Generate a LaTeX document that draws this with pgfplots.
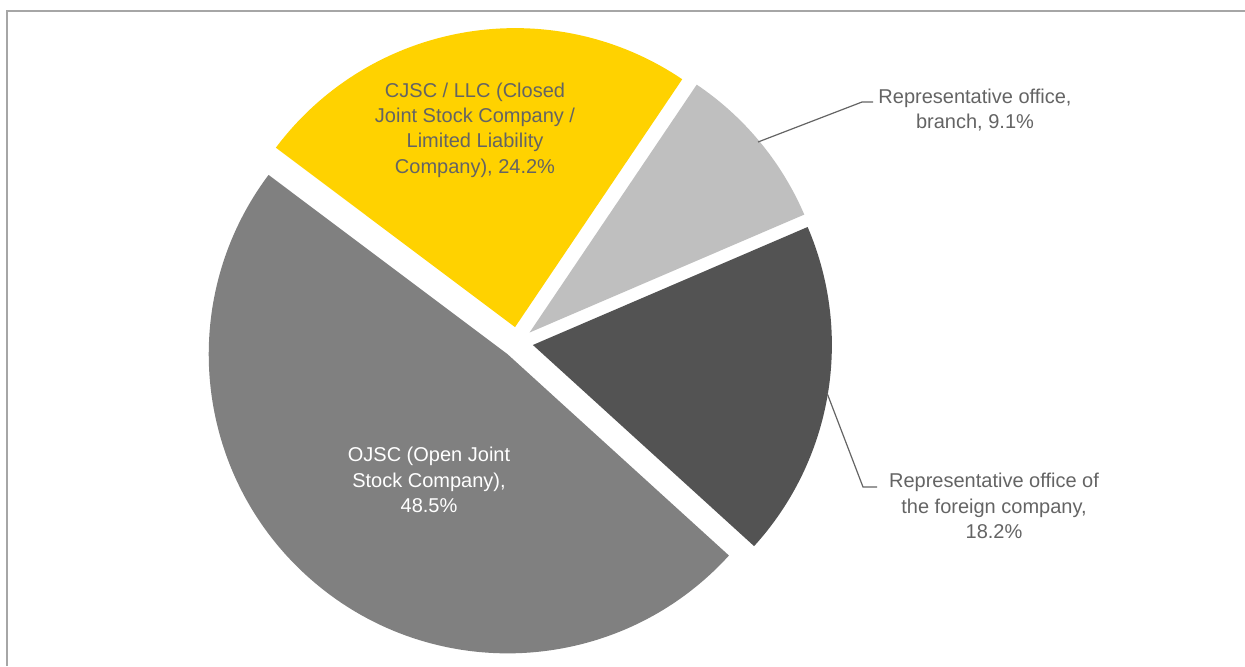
\documentclass[border=0pt]{standalone}
\usepackage{pgfplots}
\pgfplotsset{compat=1.18}
\usepackage{fontspec}
\setmainfont{Liberation Sans}
\definecolor{eyyellow}{HTML}{FFD200}
\definecolor{lgray}{HTML}{BFBFBF}
\definecolor{dgray}{HTML}{535353}
\definecolor{mgray}{HTML}{808080}
\definecolor{txt}{HTML}{646464}
\definecolor{frame}{HTML}{A6A6A6}
\begin{document}
\begin{tikzpicture}
% shares (percent), clockwise from the first slice
\def\pA{9.1}  % Representative office, branch
\def\pB{18.2} % Representative office of the foreign company
\def\pC{48.5} % OJSC
\def\pD{24.2} % CJSC / LLC
\pgfmathsetmacro\aA{56}
\pgfmathsetmacro\aB{\aA-3.6*\pA}
\pgfmathsetmacro\aC{\aB-3.6*\pB}
\pgfmathsetmacro\aD{\aC-3.6*\pC}
\pgfmathsetmacro\aE{\aD-3.6*\pD}
\pgfmathsetmacro\mA{(\aA+\aB)/2}
\pgfmathsetmacro\mB{(\aB+\aC)/2}
\pgfmathsetmacro\mC{(\aC+\aD)/2}
\pgfmathsetmacro\mD{(\aD+\aE)/2}
\def\R{149.5pt}
\def\D{7.75pt}
\begin{axis}[
  scale only axis, width=622.5pt, height=333pt,
  xmin=0, xmax=1245, ymin=0, ymax=666, y dir=reverse,
  hide axis, clip=false,
]
\fill[lgray] (axis cs:517.6,342.4) ++(\mA:\D) -- ++(\aA:\R) arc[start angle=\aA, end angle=\aB, radius=\R] -- cycle;
\fill[dgray] (axis cs:517.6,342.4) ++(\mB:\D) -- ++(\aB:\R) arc[start angle=\aB, end angle=\aC, radius=\R] -- cycle;
\fill[mgray] (axis cs:517.6,342.4) ++(\mC:\D) -- ++(\aC:\R) arc[start angle=\aC, end angle=\aD, radius=\R] -- cycle;
\fill[eyyellow] (axis cs:517.6,342.4) ++(\mD:\D) -- ++(\aD:\R) arc[start angle=\aD, end angle=\aE, radius=\R] -- cycle;
% frame
\draw[frame, line width=1pt] (axis cs:7,666) -- (axis cs:7,11) -- (axis cs:1245,11);
% leader lines
\draw[txt, line width=0.6pt] (axis cs:758,142) -- (axis cs:862,102) -- (axis cs:873,102);
\draw[txt, line width=0.6pt] (axis cs:827,393) -- (axis cs:863,487) -- (axis cs:877,487);
% labels
\tikzset{lbl/.style={align=center, font=\fontsize{10}{12.65}\selectfont, inner sep=0pt}}
\node[lbl, text=txt] at (axis cs:475,130) {CJSC / LLC (Closed\\Joint Stock Company /\\Limited Liability\\Company), \pD\%};
\node[lbl, text=white] at (axis cs:429,480) {OJSC (Open Joint\\Stock Company),\\\pC\%};
\node[lbl, text=txt] at (axis cs:975,110) {Representative office,\\branch, \pA\%};
\node[lbl, text=txt] at (axis cs:994,506) {Representative office of\\the foreign company,\\\pB\%};
\coordinate (bbll) at (axis cs:0,666);
\coordinate (bbur) at (axis cs:1245,0);
\end{axis}
\pgfresetboundingbox
\path[use as bounding box] (bbll) rectangle (bbur);
\end{tikzpicture}
\end{document}
